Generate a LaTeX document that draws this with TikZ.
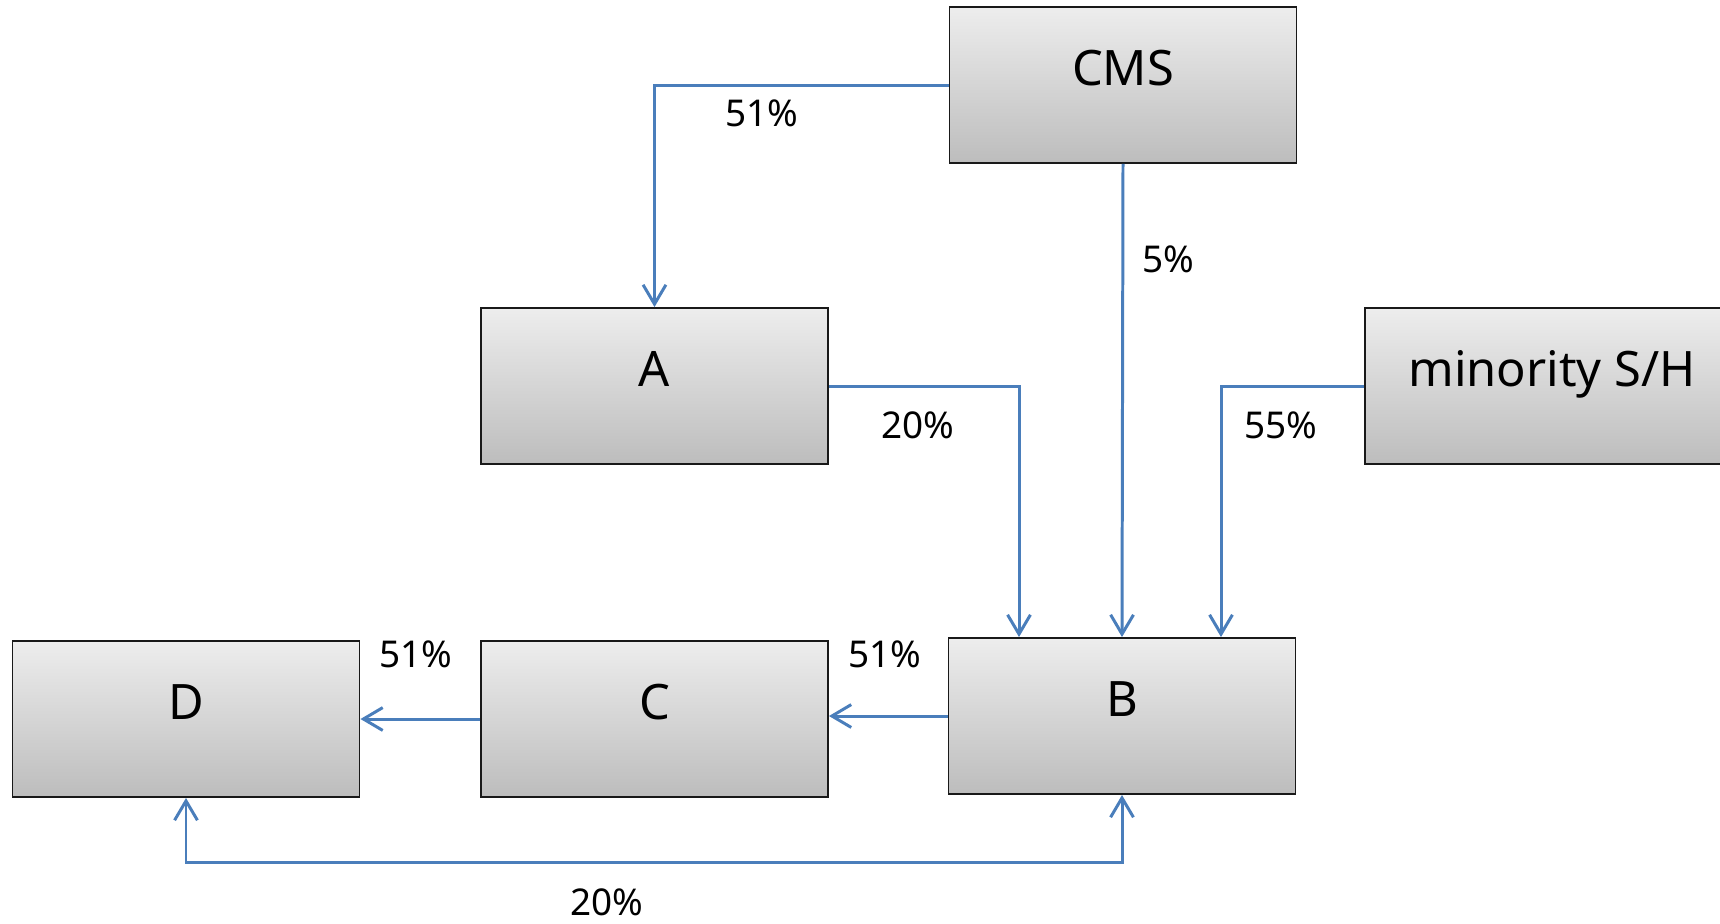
\documentclass[tikz,border=0pt]{standalone}
\usepackage{fontspec}
\setmainfont{Noto Sans}
\usetikzlibrary{arrows.meta}
\definecolor{linkblue}{RGB}{74,126,187}

\begin{document}
\begin{tikzpicture}[x=1cm,y=1cm,>={Straight Barb[length=11pt,width=13pt]}]
  \tikzstyle{box}=[draw=black!90, line width=1.1pt, rectangle, top color=black!7, bottom color=black!26, minimum width=6.94cm, minimum height=3.12cm, text height=1.3cm, text depth=1.3cm, inner ysep=0pt, font=\fontsize{27.8}{32}\selectfont]
  \tikzstyle{link}=[draw=linkblue, line width=1.7pt]
  \tikzstyle{pct}=[font=\fontsize{21}{25}\selectfont]
  \useasboundingbox (0,0) rectangle (34.4,-18.46);

  \node[box] (cms) at (22.46,-1.70) {CMS};
  \node[box] (a) at (13.09,-7.72) {A};
  \node[box, minimum width=7.48cm] (minor) at (31.04,-7.72) {minority S/H};
  \node[box] (d) at (3.72,-14.38) {D};
  \node[box] (c) at (13.09,-14.38) {C};
  \node[box] (b) at (22.44,-14.32) {B};

  \draw[link,->] (cms.west) -| (a.north);
  \draw[link,->] (cms.south) -- (b.north);
  \draw[link,->] (a.east) -| ([xshift=-2.06cm]b.north);
  \draw[link,->] (minor.west) -| ([xshift=1.98cm]b.north);
  \draw[link,->] (b.west) -- (b.west -| c.east);
  \draw[link,->] (c.west) -- (c.west -| d.east);
  \draw[link,<->] (d.south) -- ++(0,-1.3) -| (b.south);

  \node[pct] (pctCmsA) at (15.24,-2.26) {51\%};
  \node[pct] (pctCmsB) at (23.36,-5.18) {5\%};
  \node[pct] (pctAB) at (18.36,-8.50) {20\%};
  \node[pct] (pctMinB) at (25.62,-8.50) {55\%};
  \node[pct] (pctBC) at (17.70,-13.08) {51\%};
  \node[pct] (pctCD) at (8.31,-13.08) {51\%};
  \node[pct] (pctDB) at (12.14,-18.04) {20\%};
\end{tikzpicture}
\end{document}
